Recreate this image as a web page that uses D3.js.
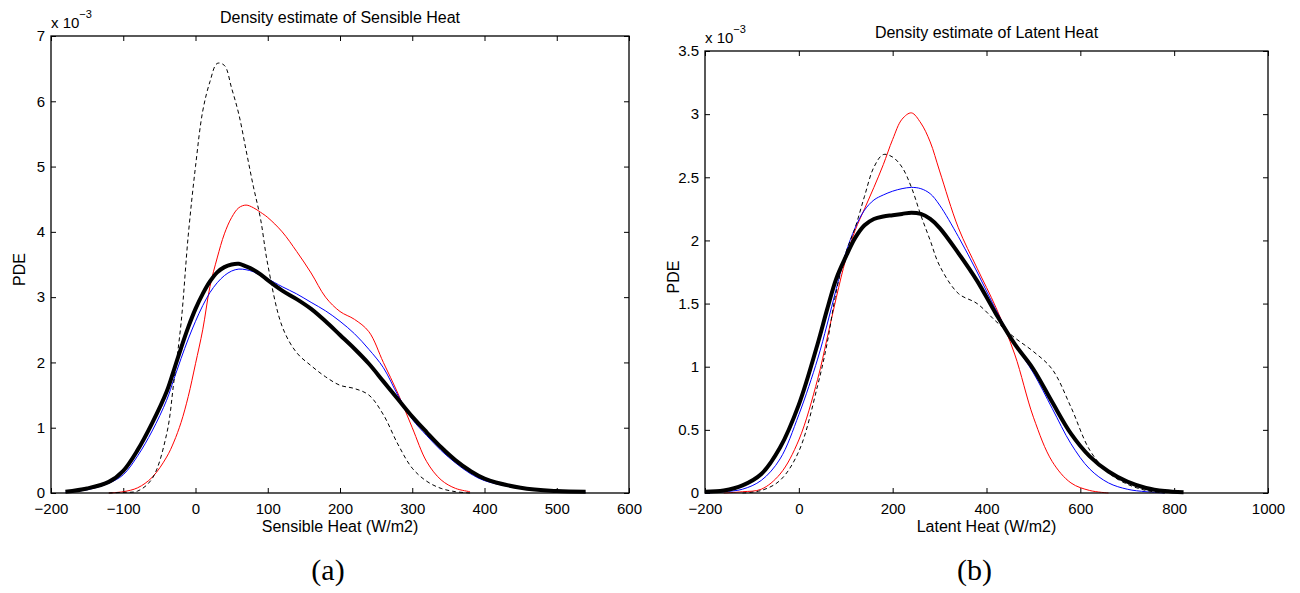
<!DOCTYPE html>
<html lang="en">
    <head>
        <meta charset="utf-8">
        <title>Density estimates</title>
        <script type="text/javascript" src="https://d3js.org/d3.v7.min.js"></script>
        <style type="text/css">
          body { margin: 0; background: #fff; }
          text { font-family: "Liberation Sans", Arial, sans-serif; fill: #000; }
        </style>
    </head>
    <body>
        <svg width="1300" height="593"></svg>
        <script type="text/javascript">

            // ---- data (values in units of 1e-3) ----
            // (a) sensible heat
            const sensX      = [-180,-150,-120,-100,-80,-60,-40,-30,-20,-10,0,10,20,30,40,50,60,70,80,90,100,120,140,160,180,200,220,240,260,280,300,320,340,360,380,400,450,500,540];
            const sensAll    = [0.02,0.07,0.17,0.34,0.66,1.07,1.55,1.88,2.22,2.54,2.82,3.05,3.24,3.38,3.46,3.5,3.51,3.47,3.42,3.35,3.26,3.1,2.97,2.82,2.63,2.42,2.21,1.98,1.71,1.44,1.17,0.93,0.7,0.5,0.34,0.22,0.08,0.03,0.02];
            const sensBlue   = [0.01,0.05,0.15,0.28,0.57,0.95,1.42,1.74,2.06,2.36,2.63,2.87,3.07,3.22,3.33,3.4,3.43,3.42,3.39,3.33,3.28,3.16,3.05,2.92,2.79,2.63,2.44,2.2,1.92,1.5,1.13,0.88,0.65,0.46,0.3,0.19,0.07,0.02,0.01];
            const sensRed    = [null,null,0.0,0.02,0.08,0.24,0.55,0.78,1.08,1.48,1.98,2.5,3.16,3.6,3.97,4.22,4.37,4.41,4.37,4.3,4.22,4.0,3.7,3.37,3.0,2.78,2.66,2.47,2.0,1.53,1.0,0.48,0.2,0.07,0.02,null,null,null,null];
            const sensDash   = [null,null,0.0,0.01,0.03,0.22,0.9,1.7,2.6,3.95,5.0,5.85,6.3,6.58,6.55,6.2,5.8,5.25,4.7,4.2,3.5,2.55,2.15,1.95,1.78,1.65,1.6,1.5,1.2,0.75,0.38,0.18,0.07,0.02,0.0,null,null,null,null];
            const sensXTicks = [-200,-100,0,100,200,300,400,500,600];
            const sensYTicks = [0,1,2,3,4,5,6,7];

            // (b) latent heat
            const latX       = [-200,-160,-120,-80,-40,0,40,60,80,100,120,140,160,180,200,220,240,260,280,300,340,380,420,460,500,540,580,620,660,700,740,780,820];
            const latAll     = [0.01,0.02,0.06,0.15,0.36,0.7,1.18,1.45,1.7,1.87,2.02,2.12,2.17,2.19,2.2,2.21,2.22,2.21,2.17,2.1,1.9,1.68,1.42,1.18,0.98,0.72,0.47,0.29,0.17,0.09,0.04,0.015,0.005];
            const latBlue    = [0.0,0.01,0.03,0.1,0.27,0.62,1.06,1.33,1.62,1.9,2.1,2.24,2.32,2.36,2.39,2.41,2.42,2.41,2.37,2.28,2.03,1.75,1.45,1.18,0.95,0.67,0.39,0.19,0.08,0.03,0.01,0.0,null];
            const latRed     = [null,0.0,0.01,0.03,0.15,0.42,0.9,1.22,1.55,1.85,2.08,2.25,2.42,2.6,2.8,2.96,3.01,2.93,2.78,2.55,2.1,1.78,1.47,1.1,0.6,0.25,0.08,0.02,0.0,null,null,null,null];
            const latDash    = [null,null,0.0,0.02,0.1,0.33,0.85,1.18,1.6,1.9,2.1,2.35,2.58,2.68,2.66,2.58,2.42,2.2,2.0,1.8,1.58,1.5,1.36,1.23,1.12,0.98,0.68,0.34,0.16,0.07,0.02,0.0,null];
            const latXTicks  = [-200,0,200,400,600,800,1000];
            const latYTicks  = [0,0.5,1,1.5,2,2.5,3,3.5];

            const svg = d3.select("svg");
            const fmt = d => d < 0 ? "\u2212" + Math.abs(d) : String(d);

            function drawPanel(opt) {
              const x = d3.scaleLinear().domain(opt.xDomain).range([opt.left, opt.right]);
              const y = d3.scaleLinear().domain(opt.yDomain).range([opt.bottom, opt.top]);
              const g = svg.append("g");

              // inward ticks on all four sides
              g.append("g").attr("transform", `translate(0,${opt.bottom})`)
               .call(d3.axisBottom(x).tickValues(opt.xTicks).tickSize(-5).tickPadding(10).tickFormat(fmt));
              g.append("g").attr("transform", `translate(0,${opt.top})`)
               .call(d3.axisTop(x).tickValues(opt.xTicks).tickSize(-5).tickFormat(""));
              g.append("g").attr("transform", `translate(${opt.left},0)`)
               .call(d3.axisLeft(y).tickValues(opt.yTicks).tickSize(-5).tickPadding(6).tickFormat(fmt));
              g.append("g").attr("transform", `translate(${opt.right},0)`)
               .call(d3.axisRight(y).tickValues(opt.yTicks).tickSize(-5).tickFormat(""));
              g.selectAll(".domain").remove();
              g.selectAll(".tick line").attr("stroke", "#000");
              g.selectAll(".tick text").style("font-size", "15px").style("font-family", "'Liberation Sans', Arial, sans-serif");

              // curves
              const line = d3.line()
                  .defined(d => d[1] != null)
                  .x(d => x(d[0]))
                  .y(d => y(d[1]))
                  .curve(d3.curveCatmullRom.alpha(0.5));

              opt.series.forEach(s => {
                g.append("path")
                 .datum(opt.xs.map((v, i) => [v, s.values[i]]))
                 .attr("d", line)
                 .attr("fill", "none")
                 .attr("stroke", s.color)
                 .attr("stroke-width", s.width)
                 .attr("stroke-dasharray", s.dash || null)
                 .attr("stroke-linejoin", "round");
              });

              // box
              g.append("rect")
               .attr("x", opt.left).attr("y", opt.top)
               .attr("width", opt.right - opt.left).attr("height", opt.bottom - opt.top)
               .attr("fill", "none").attr("stroke", "#000").attr("stroke-width", 1.3);

              // labels
              const cx = (opt.left + opt.right) / 2;
              g.append("text").attr("x", cx).attr("y", opt.top - 13)
               .attr("text-anchor", "middle").style("font-size", "16px").text(opt.title);
              g.append("text").attr("x", cx).attr("y", opt.bottom + 39)
               .attr("text-anchor", "middle").style("font-size", "16px").text(opt.xLabel);
              g.append("text")
               .attr("transform", `translate(${opt.left - 26},${(opt.top + opt.bottom) / 2 + 5}) rotate(-90)`)
               .attr("text-anchor", "middle").style("font-size", "16px").text("PDE");

              const ex = g.append("text").attr("x", opt.left).attr("y", opt.top - 8).style("font-size", "15px");
              ex.append("tspan").text("x 10");
              ex.append("tspan").attr("dy", -10).style("font-size", "11px").text("\u22123");

              g.append("text").attr("x", cx - 12).attr("y", 580)
               .attr("text-anchor", "middle")
               .style("font-family", "'Liberation Serif', 'DejaVu Serif', serif")
               .style("font-size", "30px").text(opt.tag);
            }

            drawPanel({
              left: 51, right: 629, top: 36, bottom: 493,
              xDomain: [-200, 600], yDomain: [0, 7],
              xTicks: sensXTicks, yTicks: sensYTicks, xs: sensX,
              title: "Density estimate of Sensible Heat",
              xLabel: "Sensible Heat (W/m2)", tag: "(a)",
              series: [
                {values: sensRed,  color: "#ff0000", width: 1},
                {values: sensBlue, color: "#0000ff", width: 1},
                {values: sensDash, color: "#000", width: 1, dash: "4,3"},
                {values: sensAll,  color: "#000", width: 4}
              ]
            });

            drawPanel({
              left: 705, right: 1268, top: 51, bottom: 493,
              xDomain: [-200, 1000], yDomain: [0, 3.5],
              xTicks: latXTicks, yTicks: latYTicks, xs: latX,
              title: "Density estimate of Latent Heat",
              xLabel: "Latent Heat (W/m2)", tag: "(b)",
              series: [
                {values: latRed,  color: "#ff0000", width: 1},
                {values: latBlue, color: "#0000ff", width: 1},
                {values: latDash, color: "#000", width: 1, dash: "4,3"},
                {values: latAll,  color: "#000", width: 4}
              ]
            });

        </script>
    </body>
</html>
